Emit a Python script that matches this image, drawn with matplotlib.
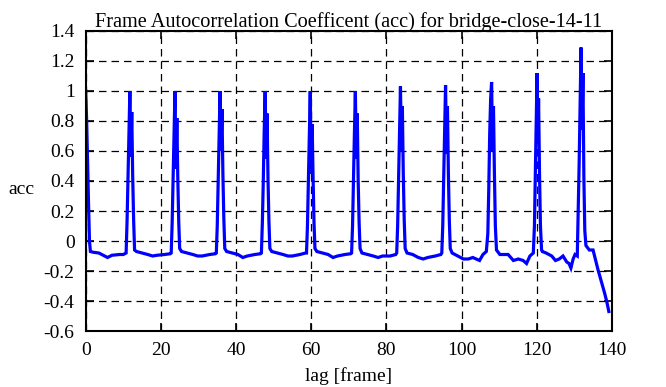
import matplotlib
matplotlib.use("Agg")
import matplotlib.pyplot as plt

# lag in frames and the autocorrelation, one 12-frame cycle per line
lag = [
    0, 0.25, 0.5, 0.75, 1.0, 1.25, 2, 3.5, 5, 5.8, 7, 9, 10, 10.75,
    11.0, 11.25, 11.5, 11.75, 12.0, 12.25, 12.5, 12.75, 13.0, 13.5, 15, 16.5, 17.8, 19, 21, 22.5, 22.75,
    23.0, 23.25, 23.5, 23.75, 24.0, 24.25, 24.5, 24.75, 25.0, 25.5, 27, 28.5, 29.8, 31, 33, 34.5, 34.75,
    35.0, 35.25, 35.5, 35.75, 36.0, 36.25, 36.5, 36.75, 37.0, 37.5, 39, 40.5, 41.8, 43, 45, 46.5, 46.75,
    47.0, 47.25, 47.5, 47.75, 48.0, 48.25, 48.5, 48.75, 49.0, 49.5, 51, 52.5, 53.8, 55, 57, 58.5, 58.75,
    59.0, 59.25, 59.5, 59.75, 60.0, 60.25, 60.5, 60.75, 61.0, 61.5, 63, 64.5, 65.8, 67, 69, 70.5, 70.75,
    71.0, 71.25, 71.5, 71.75, 72.0, 72.25, 72.5, 72.75, 73.0, 73.5, 75, 76.5, 77.8, 79, 81, 82.5, 82.75,
    83.0, 83.25, 83.5, 83.75, 84.0, 84.25, 84.5, 84.75, 85.0, 85.5, 87, 88.5, 89.8, 91, 93, 94.5, 94.75,
    95.0, 95.25, 95.5, 95.75, 96.0, 96.25, 96.5, 96.75, 97.0, 97.5, 99, 100.5, 101.8, 103, 104.8, 105.7, 106.6,
    107.0, 107.25, 107.5, 107.75, 108.0, 108.25, 108.5, 108.75, 109.0, 109.3, 110.2, 112.4, 113.8, 115.1, 116.4, 117.3, 118.2, 119.1,
    119.4, 119.65, 119.9, 120.1, 120.3, 120.5, 120.75, 121.0, 121.3, 121.5, 122.5, 124, 125, 126, 127, 128, 128.6, 129.1, 129.7, 130.2, 130.8,
    131.0, 131.3, 131.55, 131.8, 132.05, 132.3, 132.55, 132.8, 133.1, 134, 135, 135.4, 136.3, 137.2, 138.1, 138.7, 139.2,
]
acc = [
    1.0, 0.8, 0.52, 0.25, 0.0, -0.07, -0.075, -0.08, -0.1, -0.11, -0.095, -0.09, -0.09, -0.08,
    0.13, 0.42, 0.72, 1.0, 0.56, 0.86, 0.43, 0.14, -0.06, -0.07, -0.08, -0.09, -0.1, -0.095, -0.09, -0.085, -0.08,
    0.12, 0.42, 0.75, 1.0, 0.48, 0.82, 0.42, 0.13, -0.05, -0.07, -0.08, -0.09, -0.1, -0.1, -0.09, -0.085, -0.08,
    0.1, 0.4, 0.72, 1.0, 0.6, 0.88, 0.45, 0.15, -0.05, -0.07, -0.08, -0.09, -0.11, -0.1, -0.09, -0.085, -0.08,
    0.12, 0.4, 0.74, 1.0, 0.55, 0.85, 0.42, 0.13, -0.05, -0.07, -0.08, -0.09, -0.1, -0.1, -0.09, -0.08, -0.08,
    0.1, 0.4, 0.7, 1.0, 0.45, 0.78, 0.42, 0.12, -0.05, -0.07, -0.08, -0.09, -0.11, -0.1, -0.09, -0.085, -0.08,
    0.1, 0.42, 0.72, 1.0, 0.55, 0.85, 0.4, 0.12, -0.05, -0.08, -0.09, -0.1, -0.11, -0.1, -0.1, -0.09, -0.08,
    0.1, 0.42, 0.75, 1.03, 0.6, 0.9, 0.45, 0.14, -0.05, -0.08, -0.09, -0.11, -0.12, -0.11, -0.1, -0.09, -0.08,
    0.1, 0.42, 0.75, 1.04, 0.58, 0.9, 0.45, 0.14, -0.05, -0.08, -0.1, -0.12, -0.12, -0.11, -0.13, -0.09, -0.07,
    0.05, 0.35, 0.72, 0.95, 1.06, 0.6, 0.9, 0.45, 0.1, -0.06, -0.09, -0.09, -0.13, -0.12, -0.13, -0.15, -0.1, -0.08,
    0.1, 0.45, 0.8, 1.12, 0.65, 0.95, 0.45, 0.1, -0.06, -0.07, -0.08, -0.1, -0.13, -0.12, -0.1, -0.14, -0.15, -0.18, -0.12, -0.09, -0.1,
    0.15, 0.52, 0.89, 1.29, 0.74, 1.12, 0.43, 0.07, -0.03, -0.06, -0.06, -0.1, -0.19, -0.27, -0.35, -0.41, -0.47,
]

xticks = [0, 20, 40, 60, 80, 100, 120, 140]
yticks = [-0.6, -0.4, -0.2, 0, 0.2, 0.4, 0.6, 0.8, 1, 1.2, 1.4]
ytick_labels = ["-0.6", "-0.4", "-0.2", "0", "0.2", "0.4", "0.6", "0.8", "1", "1.2", "1.4"]

plt.rcParams['font.family'] = ['Liberation Serif', 'DejaVu Serif']

fig = plt.figure(figsize=(6.66, 3.87), dpi=100)
ax = fig.add_axes([0.1287, 0.1447, 0.79, 0.7752])

ax.plot(lag, acc, color='#0000ff', linewidth=2.3, solid_joinstyle='miter')

ax.set_xlim(0, 140)
ax.set_ylim(-0.6, 1.4)
ax.set_xticks(xticks)
ax.set_yticks(yticks)
ax.set_yticklabels(ytick_labels)
ax.grid(True, color='black', linestyle=(0, (6, 4)), linewidth=0.9)

for s in ax.spines.values():
    s.set_linewidth(1.5)
ax.tick_params(direction='in', length=6, width=1.2, top=True, right=True, labelsize=14)
ax.tick_params(axis='x', pad=8)
ax.tick_params(axis='y', pad=8)

ax.set_title("Frame Autocorrelation Coefficent (acc) for bridge-close-14-11", fontsize=14.6, pad=3)
ax.set_xlabel("lag [frame]", fontsize=14, labelpad=6)
ax.set_ylabel("acc", fontsize=14, rotation=0, va='center', ha='center')
ax.yaxis.set_label_coords(-0.123, 0.47)

fig.savefig("out.png", dpi=100)
